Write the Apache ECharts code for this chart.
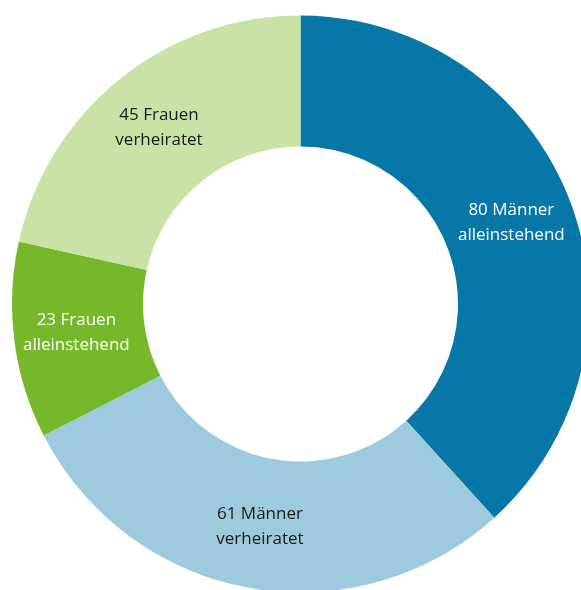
<!DOCTYPE html>
<html>
<head>
<meta charset="utf-8">
<script src="https://cdn.jsdelivr.net/npm/echarts@6/dist/echarts.min.js"></script>
<style>html,body{margin:0;padding:0;background:#fff;}#c{width:581px;height:590px;}</style>
</head>
<body>
<div id="c"></div>
<script>
const categories = ['Männer alleinstehend', 'Männer verheiratet', 'Frauen alleinstehend', 'Frauen verheiratet'];
const values = [80, 61, 23, 45];
const colors = ['#0677a6', '#9ecadd', '#76b82a', '#c8e3a5'];
const labelColors = ['#ffffff', '#1a1a1a', '#ffffff', '#1a1a1a'];

const chart = echarts.init(document.getElementById('c'), null, {renderer: 'canvas'});
chart.setOption({
  animation: false,
  series: [{
    type: 'pie',
    center: [300.5, 304],
    radius: [157.5, 288.5],
    startAngle: 90,
    clockwise: true,
    avoidLabelOverlap: false,
    itemStyle: { borderWidth: 0 },
    label: {
      show: true,
      position: 'inside',
      fontFamily: 'Open Sans',
      fontSize: 17,
      lineHeight: 25,
      padding: [4, 0, 0, 0],
      formatter: p => {
        const parts = p.name.split(' ');
        return p.value + ' ' + parts[0] + '\n' + parts[1];
      }
    },
    labelLine: { show: false },
    data: categories.map((n, i) => ({
      name: n, value: values[i],
      itemStyle: { color: colors[i] },
      label: { color: labelColors[i] }
    }))
  }]
});
</script>
</body>
</html>
